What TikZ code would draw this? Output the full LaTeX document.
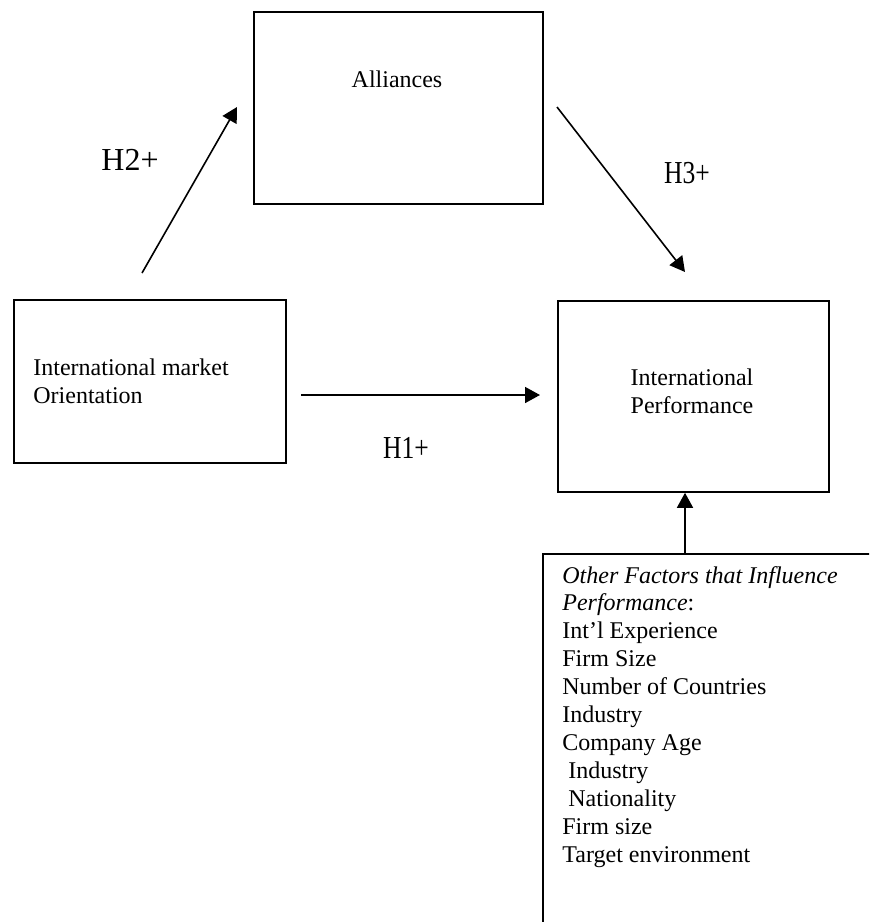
\documentclass[tikz,border=0pt]{standalone}
\usepackage{fontspec}
\setmainfont{Liberation Serif}
\usetikzlibrary{arrows.meta,positioning}

\begin{document}
\begin{tikzpicture}[x=0.5pt,y=-0.5pt,
  box/.style={draw,line width=0.9pt,inner sep=0pt,anchor=north west},
  link/.style={line width=0.8pt,-{Triangle[length=7.5pt,width=8pt]}},
  body/.style={font=\fontsize{12}{13.95}\selectfont,inner sep=0pt,align=left},
  hyp/.style={font=\fontsize{16}{18}\selectfont,inner sep=0pt,anchor=base}]
  \useasboundingbox (0,0) rectangle (869,922);
  \clip (0,0) rectangle (869,922);
  % boxes (grid in pixels, y runs down)
  \node[box,minimum width=144.5pt,minimum height=96pt] (all) at (253,11) {};
  \node[box,minimum width=136pt,minimum height=81.5pt] (imo) at (13,299) {};
  \node[box,minimum width=135.5pt,minimum height=95.5pt] (ip) at (557,300) {};
  \node[box,minimum width=170pt,minimum height=200pt] (oth) at (542,553) {};
  % box texts (base = last line)
  \node[body,anchor=base] (alltxt) at (397,87) {Alliances};
  \node[body,anchor=base west] (imotxt) at (33,403) {International market\\Orientation};
  \node[body,anchor=base,align=center] (iptxt) at (692,413) {International\\Performance};
  \node[body,anchor=base west] (othtxt) at (562,862) {%
    \textit{Other Factors that Influence}\\
    \textit{Performance}:\\
    Int’l Experience\\
    Firm Size\\
    Number of Countries\\
    Industry\\
    Company Age\\
    \hspace*{0.25em}Industry\\
    \hspace*{0.25em}Nationality\\
    Firm size\\
    Target environment};
  % free ends of the hypothesis arrows
  \coordinate (h2a) at (142,273);
  \coordinate (h2b) at (237,107);
  \coordinate (h3a) at (557,107);
  \coordinate (h3b) at (685,272);
  \coordinate (h1a) at (301,395);
  \coordinate (h1b) at (540,395);
  \coordinate (ctl) at (685,553);
  \draw[link] (h2a) -- (h2b);
  \draw[link] (h3a) -- (h3b);
  \draw[link] (h1a) -- (h1b);
  \draw[link] (ctl) -- (ctl |- ip.south);
  % hypothesis labels
  \node[hyp] (h2) at (130,170) {H2+};
  \node[hyp] (h3) at (687,183) {\scalebox{0.8}[1]{H3+}};
  \node[hyp] (h1) at (406,458) {\scalebox{0.8}[1]{H1+}};
\end{tikzpicture}
\end{document}
